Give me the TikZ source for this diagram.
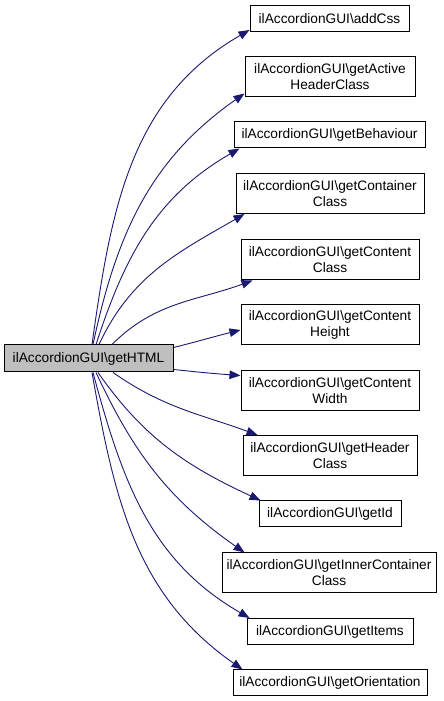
\documentclass[tikz,border=0pt]{standalone}
\usepackage{fontspec}
\setmainfont{Liberation Sans}
\usetikzlibrary{arrows.meta}
\definecolor{edgec}{HTML}{191970}
\begin{document}
\begin{tikzpicture}[x=1pt,y=1pt,
 box/.style={draw=black, line width=1pt, fill=white, inner sep=0pt, align=center, font=\fontsize{13.7}{16}\selectfont},
 one/.style={box, minimum height=26pt},
 two/.style={box, minimum height=40pt},
 edge/.style={draw=edgec, line width=0.9pt, -{Triangle[length=11pt,width=8.5pt]}}]
\useasboundingbox (0,0) rectangle (444,701);
\node[box, fill=gray!50, minimum width=169pt, minimum height=27pt] (src) at (88.5,342.5) {ilAccordionGUI\textbackslash getHTML};
\node[one, minimum width=159pt] (n1) at (329.5,682.5) {ilAccordionGUI\textbackslash addCss};
\node[two, minimum width=170pt] (n2) at (330,624) {ilAccordionGUI\textbackslash getActive\\HeaderClass};
\node[one, minimum width=191pt] (n3) at (329.5,566) {ilAccordionGUI\textbackslash getBehaviour};
\node[two, minimum width=188pt] (n4) at (330,507.5) {ilAccordionGUI\textbackslash getContainer\\Class};
\node[two, minimum width=178pt] (n5) at (330,441) {ilAccordionGUI\textbackslash getContent\\Class};
\node[two, minimum width=178pt] (n6) at (330,376) {ilAccordionGUI\textbackslash getContent\\Height};
\node[two, minimum width=178pt] (n7) at (330,310.5) {ilAccordionGUI\textbackslash getContent\\Width};
\node[two, minimum width=174pt] (n8) at (330,245.5) {ilAccordionGUI\textbackslash getHeader\\Class};
\node[one, minimum width=142pt] (n9) at (330,187) {ilAccordionGUI\textbackslash getId};
\node[two, minimum width=214pt] (n10) at (329,128) {ilAccordionGUI\textbackslash getInnerContainer\\Class};
\node[one, minimum width=166pt] (n11) at (330,69.5) {ilAccordionGUI\textbackslash getItems};
\node[one, minimum width=194pt] (n12) at (330,18) {ilAccordionGUI\textbackslash getOrientation};

\draw[edge] ([xshift=3.5pt]src.north) to[out=82,in=210] ([yshift=2pt]n1.south west);
\draw[edge] ([xshift=4.5pt]src.north) to[out=78,in=215] ([yshift=4pt]n2.south west);
\draw[edge] ([xshift=7.5pt]src.north) to[out=72,in=210] ([xshift=6pt]n3.south west);
\draw[edge] ([xshift=10.5pt]src.north) to[out=65,in=210] ([xshift=9pt]n4.south west);
\draw[edge] ([xshift=23.5pt]src.north) to[out=45,in=200] ([xshift=12pt]n5.south west);
\draw[edge] ([yshift=11pt]src.east) to[out=14,in=194] ([yshift=-5pt]n6.west);
\draw[edge] ([yshift=-11pt]src.east) to[out=-6,in=176] ([yshift=15pt]n7.west);
\draw[edge] ([xshift=24.5pt]src.south) to[out=-35,in=160] ([xshift=15pt]n8.north west);
\draw[edge] ([xshift=9.5pt]src.south) to[out=-55,in=155] ([xshift=2pt]n9.north west);
\draw[edge] ([xshift=7.5pt]src.south) to[out=-65,in=145] ([xshift=23pt]n10.north west);
\draw[edge] ([xshift=4.5pt]src.south) to[out=-75,in=150] ([xshift=3pt]n11.north west);
\draw[edge] ([xshift=3.5pt]src.south) to[out=-80,in=145] ([xshift=10pt]n12.north west);
\end{tikzpicture}
\end{document}
